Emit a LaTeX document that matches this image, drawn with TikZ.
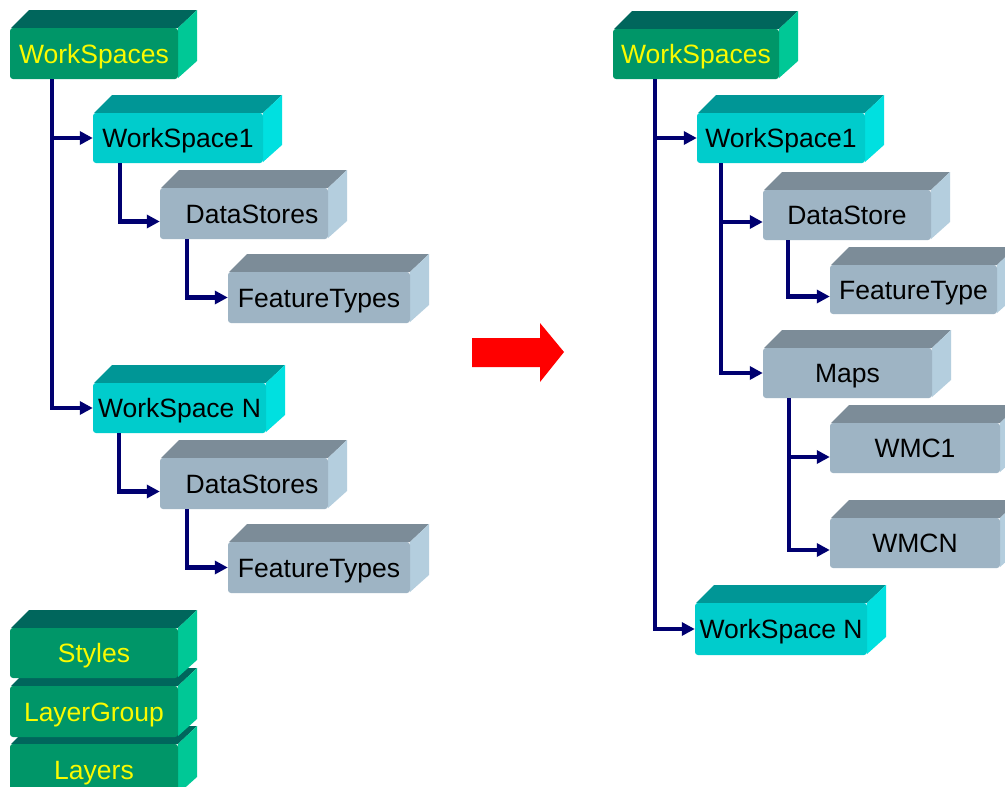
\documentclass[tikz,border=0pt]{standalone}
\usepackage{fontspec}
\setmainfont{Liberation Sans}
\usetikzlibrary{arrows.meta}
\definecolor{gFront}{RGB}{0,150,104}
\definecolor{gTop}{RGB}{0,102,92}
\definecolor{gSide}{RGB}{0,200,150}
\definecolor{cFront}{RGB}{0,204,204}
\definecolor{cTop}{RGB}{0,150,150}
\definecolor{cSide}{RGB}{0,224,224}
\definecolor{sFront}{RGB}{158,180,196}
\definecolor{sTop}{RGB}{124,140,152}
\definecolor{sSide}{RGB}{180,206,222}
\definecolor{navyline}{RGB}{0,0,112}
\definecolor{ytext}{RGB}{250,250,0}
\tikzset{
  face/.style={rectangle, rounded corners=3pt, inner sep=0pt, text height=19pt, text depth=0pt,
    font=\fontsize{26.5}{30}\selectfont},
  g front/.style={face, fill=gFront, text=ytext},
  c front/.style={face, fill=cFront, text=black},
  s front/.style={face, fill=sFront, text=black},
  conn/.style={draw=navyline, line width=4.5pt, -{Triangle[length=13pt,width=13pt]}},
}
% #1 name, #2 family (g/c/s), #3 x1, #4 y1, #5 x2, #6 y2, #7 text
\newcommand{\cubebox}[7]{%
  \fill[#2Top] (#3+1,#4) -- (#3+19,#4-18) -- (#5+19,#4-18) -- (#5,#4) -- cycle;
  \fill[#2Side] (#5,#4) -- (#5+19,#4-18) -- (#5+19,#6-18) -- (#5,#6-1) -- cycle;
  \node[#2 front, minimum width={#5-#3}, minimum height={#6-#4}] (#1) at ({(#3+#5)/2},{(#4+#6)/2}) {#7};
}
\begin{document}
\begin{tikzpicture}[x=1pt,y=-1pt]
\useasboundingbox (0,0) rectangle (1005,787);
\clip (0,0) rectangle (1005,787);
\fill[white] (0,0) rectangle (1005,787);

% ---- left tree ----
\cubebox{Lws}{g}{10}{28}{178}{79}{WorkSpaces}
\cubebox{Lws1}{c}{93}{113}{263}{163}{WorkSpace1}
\cubebox{Lds1}{s}{160}{188}{328}{239}{\hspace*{16pt}DataStores}
\cubebox{Lft1}{s}{228}{272}{410}{323}{FeatureTypes}
\cubebox{LwsN}{c}{93}{383}{266}{433}{WorkSpace N}
\cubebox{Lds2}{s}{160}{458}{328}{509}{\hspace*{16pt}DataStores}
\cubebox{Lft2}{s}{228}{542}{410}{593}{FeatureTypes}

\cubebox{Llay}{g}{10}{744}{178}{795}{Layers}
\cubebox{Llg}{g}{10}{686}{178}{737}{LayerGroup}
\cubebox{Lsty}{g}{10}{628}{178}{678}{Styles}

\draw[conn] ([xshift=42pt]Lws.south west) |- (Lws1.west);
\draw[conn] ([xshift=42pt]Lws.south west) |- (LwsN.west);
\draw[conn] ([xshift=27pt]Lws1.south west) |- ([yshift=-8pt]Lds1.west);
\draw[conn] ([xshift=27pt]Lds1.south west) |- (Lft1.west);
\draw[conn] ([xshift=26pt]LwsN.south west) |- ([yshift=-8pt]Lds2.west);
\draw[conn] ([xshift=27pt]Lds2.south west) |- (Lft2.west);

% ---- red arrow ----
\fill[red] (472,338) -- (540,338) -- (540,323) -- (564,352) -- (540,382) -- (540,367) -- (472,367) -- cycle;

% ---- right tree ----
\cubebox{Rws}{g}{613}{29}{779}{79}{WorkSpaces}
\cubebox{Rws1}{c}{697}{113}{865}{163}{WorkSpace1}
\cubebox{Rds}{s}{763}{190}{931}{240}{DataStore}
\cubebox{Rft}{s}{830}{265}{997}{314}{FeatureType}
\cubebox{Rmaps}{s}{763}{348}{932}{398}{Maps}
\cubebox{Rwmc1}{s}{830}{423}{1000}{473}{WMC1}
\cubebox{Rwmcn}{s}{830}{518}{1000}{568}{WMCN}
\cubebox{RwsN}{c}{695}{603}{867}{655}{WorkSpace N}

\draw[conn] ([xshift=42pt]Rws.south west) |- (Rws1.west);
\draw[conn] ([xshift=42pt]Rws.south west) |- (RwsN.west);
\draw[conn] ([xshift=24pt]Rws1.south west) |- ([yshift=-7pt]Rds.west);
\draw[conn] ([xshift=24pt]Rws1.south west) |- (Rmaps.west);
\draw[conn] ([xshift=25pt]Rds.south west) |- ([yshift=-7pt]Rft.west);
\draw[conn] ([xshift=26pt]Rmaps.south west) |- ([yshift=-9pt]Rwmc1.west);
\draw[conn] ([xshift=26pt]Rmaps.south west) |- ([yshift=-7pt]Rwmcn.west);
\end{tikzpicture}
\end{document}
